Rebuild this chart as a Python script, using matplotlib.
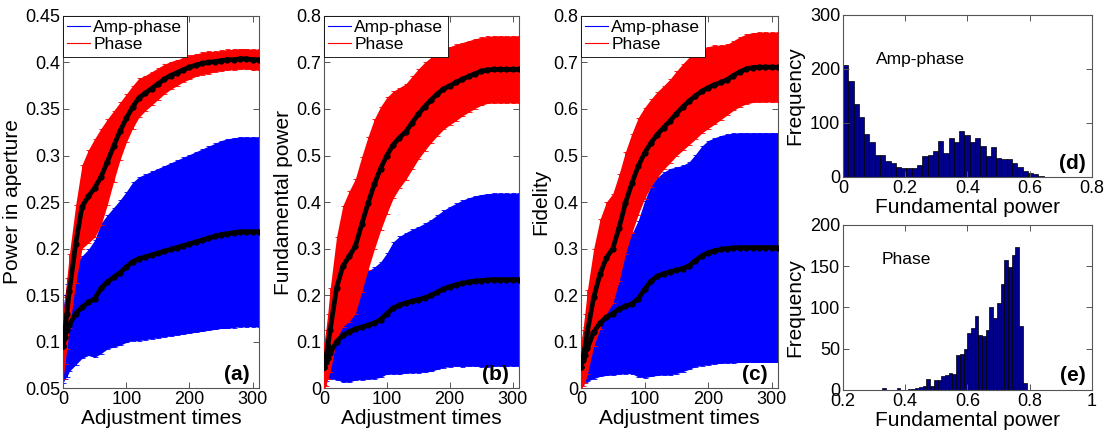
import numpy as np
import matplotlib

matplotlib.use("Agg")
import matplotlib.pyplot as plt
from matplotlib.lines import Line2D
from matplotlib.ticker import FormatStrFormatter

plt.rcParams["font.family"] = ["Liberation Sans", "DejaVu Sans"]

# adjustment steps (x axis of a, b, c)
steps = [0, 3, 6, 10, 20, 30, 40, 50, 60, 70, 80, 90, 100, 110, 120, 130, 140, 150,
         160, 170, 180, 190, 200, 210, 220, 230, 240, 250, 260, 270, 280, 290, 300, 310]

# (a) power in aperture
a_phase_mean = [0.095, 0.112, 0.130, 0.154, 0.205, 0.245, 0.256, 0.265, 0.277, 0.293, 0.310, 0.326,
                0.340, 0.352, 0.362, 0.367, 0.372, 0.377, 0.382, 0.386, 0.389, 0.392, 0.395, 0.397,
                0.399, 0.400, 0.401, 0.402, 0.403, 0.403, 0.404, 0.404, 0.403, 0.403]
a_phase_std = [0.035, 0.036, 0.038, 0.040, 0.042, 0.045, 0.050, 0.053, 0.052, 0.046, 0.038, 0.031,
               0.026, 0.023, 0.021, 0.019, 0.018, 0.017, 0.016, 0.015, 0.014, 0.013, 0.013, 0.012,
               0.012, 0.012, 0.011, 0.011, 0.011, 0.011, 0.011, 0.011, 0.011, 0.011]
a_amp_mean = [0.095, 0.105, 0.112, 0.118, 0.130, 0.137, 0.142, 0.146, 0.157, 0.164, 0.169, 0.174,
              0.180, 0.186, 0.189, 0.191, 0.193, 0.195, 0.197, 0.199, 0.201, 0.203, 0.205, 0.207,
              0.209, 0.211, 0.213, 0.215, 0.216, 0.217, 0.218, 0.218, 0.218, 0.218]
a_amp_std = [0.040, 0.045, 0.050, 0.050, 0.055, 0.055, 0.057, 0.063, 0.070, 0.072, 0.075, 0.078,
             0.081, 0.085, 0.088, 0.089, 0.090, 0.091, 0.092, 0.093, 0.094, 0.095, 0.096, 0.097,
             0.098, 0.099, 0.100, 0.101, 0.102, 0.102, 0.102, 0.102, 0.102, 0.102]

# (b) fundamental power
b_phase_mean = [0.046, 0.065, 0.090, 0.125, 0.215, 0.262, 0.283, 0.305, 0.352, 0.397, 0.438, 0.472,
                0.500, 0.523, 0.538, 0.551, 0.570, 0.589, 0.605, 0.619, 0.632, 0.643, 0.650, 0.657,
                0.664, 0.670, 0.676, 0.681, 0.684, 0.685, 0.685, 0.685, 0.685, 0.685]
b_phase_std = [0.050, 0.060, 0.070, 0.090, 0.110, 0.130, 0.140, 0.145, 0.145, 0.143, 0.140, 0.133,
               0.125, 0.115, 0.108, 0.103, 0.100, 0.097, 0.095, 0.092, 0.090, 0.087, 0.084, 0.082,
               0.079, 0.077, 0.075, 0.073, 0.072, 0.072, 0.072, 0.072, 0.072, 0.072]
b_amp_mean = [0.046, 0.055, 0.065, 0.075, 0.100, 0.113, 0.121, 0.127, 0.131, 0.135, 0.140, 0.147,
              0.160, 0.172, 0.178, 0.183, 0.187, 0.190, 0.194, 0.199, 0.206, 0.213, 0.218, 0.222,
              0.225, 0.228, 0.230, 0.231, 0.232, 0.233, 0.233, 0.233, 0.233, 0.233]
b_amp_std = [0.040, 0.040, 0.045, 0.055, 0.082, 0.100, 0.108, 0.110, 0.113, 0.116, 0.120, 0.124,
             0.130, 0.142, 0.148, 0.151, 0.154, 0.157, 0.160, 0.163, 0.166, 0.169, 0.172, 0.175,
             0.179, 0.181, 0.183, 0.185, 0.186, 0.186, 0.186, 0.186, 0.186, 0.186]

# (c) fidelity
c_phase_mean = [0.046, 0.065, 0.085, 0.120, 0.195, 0.245, 0.280, 0.300, 0.345, 0.398, 0.440, 0.477,
                0.505, 0.527, 0.545, 0.560, 0.574, 0.590, 0.604, 0.617, 0.628, 0.638, 0.646, 0.652,
                0.657, 0.663, 0.672, 0.680, 0.686, 0.689, 0.690, 0.690, 0.690, 0.690]
c_phase_std = [0.050, 0.060, 0.075, 0.090, 0.105, 0.118, 0.120, 0.118, 0.115, 0.110, 0.107, 0.104,
               0.098, 0.094, 0.092, 0.090, 0.090, 0.091, 0.093, 0.094, 0.093, 0.090, 0.088, 0.085,
               0.080, 0.076, 0.075, 0.075, 0.075, 0.075, 0.075, 0.075, 0.075, 0.075]
c_amp_mean = [0.046, 0.060, 0.072, 0.085, 0.120, 0.140, 0.152, 0.160, 0.170, 0.176, 0.181, 0.192,
              0.212, 0.230, 0.240, 0.246, 0.250, 0.253, 0.257, 0.263, 0.274, 0.284, 0.291, 0.295,
              0.298, 0.300, 0.301, 0.302, 0.302, 0.302, 0.302, 0.302, 0.302, 0.302]
c_amp_std = [0.040, 0.050, 0.060, 0.070, 0.100, 0.115, 0.125, 0.132, 0.140, 0.145, 0.150, 0.168,
             0.190, 0.205, 0.213, 0.218, 0.222, 0.222, 0.222, 0.223, 0.228, 0.236, 0.241, 0.243,
             0.245, 0.246, 0.247, 0.247, 0.247, 0.247, 0.247, 0.247, 0.247, 0.247]

# (d) histogram, amp-phase
d_counts = [208, 178, 135, 112, 80, 65, 41, 41, 30, 25, 19, 16, 17, 17, 22, 38, 41, 49, 67,
            44, 73, 64, 86, 78, 64, 73, 57, 39, 56, 36, 33, 33, 25, 18, 11, 8, 5, 2]
d_range = (0.0, 0.645)

# (e) histogram, phase
e_counts = [2, 0, 0, 0, 2, 0, 0, 1, 1, 3, 4, 5, 13, 5, 12, 12, 17, 18, 20, 19, 42, 44, 50, 69,
            75, 90, 67, 66, 73, 100, 87, 106, 129, 157, 149, 163, 173, 78, 8]
e_range = (0.325, 0.79)

BLUE = (0, 0, 1)
RED = (1, 0, 0)
FRAME = "#555555"


def style(ax):
    for s in ax.spines.values():
        s.set_color(FRAME)
        s.set_linewidth(0.8)
    ax.tick_params(direction="in", top=True, right=True, length=4, width=0.7,
                   color=FRAME, labelsize=13, pad=2)


def band(ax, x, m, s, color, z):
    m = np.array(m)
    s = np.array(s)
    ax.fill_between(x, m - s, m + s, color=color, lw=0, zorder=z)
    ax.errorbar(x, m, yerr=s, fmt="none", ecolor=color, elinewidth=0.6,
                capsize=1.8, capthick=0.6, zorder=z)


def curve_panel(rect, amp_m, amp_s, ph_m, ph_s, ylim, yticks, ylabel, tag):
    ax = fig.add_axes(rect)
    x = np.array(steps)
    band(ax, x, amp_m, amp_s, BLUE, 2)
    band(ax, x, ph_m, ph_s, RED, 3)
    for m in (amp_m, ph_m):
        ax.plot(x, m, color="k", lw=3.4, marker="o", ms=3.5, zorder=4)
    ax.set_xlim(0, 310)
    ax.set_ylim(*ylim)
    ax.set_xticks([0, 100, 200, 300])
    ax.set_yticks(yticks)
    ax.yaxis.set_major_formatter(FormatStrFormatter("%g"))
    ax.set_xlabel("Adjustment times", fontsize=15, labelpad=1)
    ax.set_ylabel(ylabel, fontsize=15, labelpad=2)
    style(ax)
    handles = [Line2D([], [], color=BLUE, lw=0.8), Line2D([], [], color=RED, lw=0.8)]
    leg = ax.legend(handles, ["Amp-phase", "Phase"], loc="upper left", fontsize=12.5,
                    fancybox=False, framealpha=1, edgecolor="k", borderaxespad=0,
                    handlelength=1.3, handletextpad=0.2, borderpad=0.25, labelspacing=0.1)
    leg.get_frame().set_linewidth(0.6)
    leg.set_zorder(10)
    ax.text(0.95, 0.035, tag, transform=ax.transAxes, ha="right", va="center",
            fontsize=15, fontweight="bold", zorder=11)
    return ax


def hist_panel(rect, counts, rng, xlim, xticks, ylim, yticks, label, label_xy, tag):
    ax = fig.add_axes(rect)
    edges = np.linspace(rng[0], rng[1], len(counts) + 1)
    ax.bar(edges[:-1], counts, width=np.diff(edges), align="edge",
           color="#00008B", edgecolor="k", linewidth=0.5)
    ax.set_xlim(*xlim)
    ax.set_ylim(*ylim)
    ax.set_xticks(xticks)
    ax.set_yticks(yticks)
    ax.xaxis.set_major_formatter(FormatStrFormatter("%g"))
    ax.set_xlabel("Fundamental power", fontsize=15, labelpad=1)
    ax.set_ylabel("Frequency", fontsize=15, labelpad=4)
    style(ax)
    ax.text(label_xy[0], label_xy[1], label, fontsize=12.5, ha="left", va="center")
    ax.text(0.975, 0.085, tag, transform=ax.transAxes, ha="right", va="center",
            fontsize=15, fontweight="bold")
    return ax


fig = plt.figure(figsize=(11.06, 4.37), dpi=100)

curve_panel([0.057, 0.1121, 0.1772, 0.8513], a_amp_mean, a_amp_std, a_phase_mean, a_phase_std,
            (0.05, 0.45), np.arange(0.05, 0.451, 0.05).round(2), "Power in aperture", "(a)")
curve_panel([0.2929, 0.1121, 0.1763, 0.8513], b_amp_mean, b_amp_std, b_phase_mean, b_phase_std,
            (0, 0.8), np.arange(0, 0.81, 0.1).round(1), "Fundamental power", "(b)")
curve_panel([0.5253, 0.1121, 0.1781, 0.8513], c_amp_mean, c_amp_std, c_phase_mean, c_phase_std,
            (0, 0.8), np.arange(0, 0.81, 0.1).round(1), "Fidelity", "(c)")

hist_panel([0.7622, 0.595, 0.2251, 0.3707], d_counts, d_range, (0, 0.8),
           [0, 0.2, 0.4, 0.6, 0.8], (0, 300), [0, 100, 200, 300],
           "Amp-phase", (0.105, 218), "(d)")
hist_panel([0.7622, 0.1076, 0.2251, 0.3776], e_counts, e_range, (0.2, 1.0),
           [0.2, 0.4, 0.6, 0.8, 1.0], (0, 200), [0, 50, 100, 150, 200],
           "Phase", (0.325, 158), "(e)")

fig.savefig("out.png", dpi=100)
